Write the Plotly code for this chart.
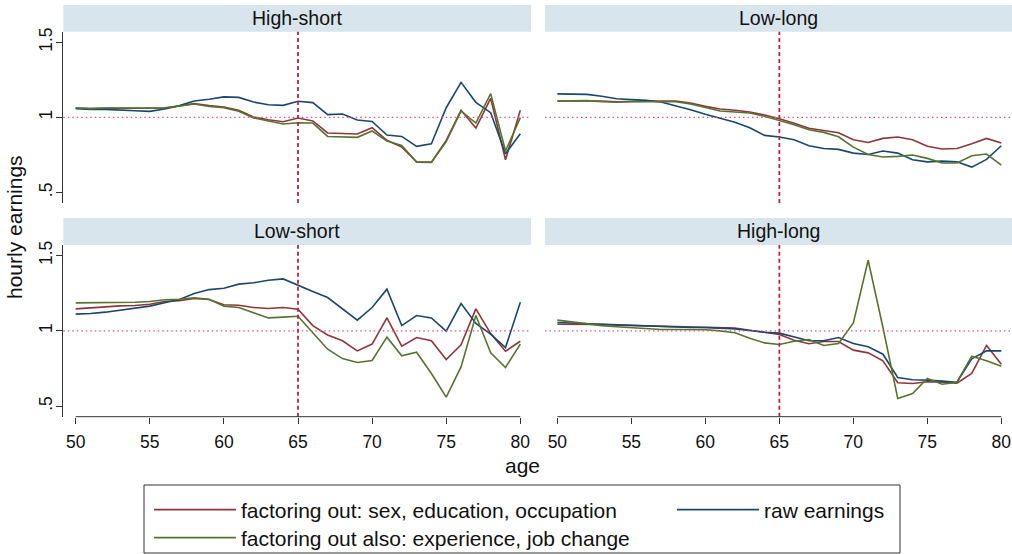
import plotly.graph_objects as go

W, H = 1012, 554

ages = list(range(50, 81))
panel_titles = ["High-short", "Low-long", "Low-short", "High-long"]
series_names = [
    "factoring out: sex, education, occupation",
    "raw earnings",
    "factoring out also: experience, job change",
]
x_ticks = [50, 55, 60, 65, 70, 75, 80]
y_tickvals = [0.5, 1.0, 1.5]
y_ticktext = [".5", "1", "1.5"]
retire_age = 65
ref_level = 1.0

# High-short
hs_sex_edu_occ = [1.062, 1.058, 1.060, 1.060, 1.060, 1.060, 1.062, 1.076, 1.091, 1.078, 1.069,
                  1.047, 1.002, 0.984, 0.971, 0.996, 0.976, 0.896, 0.891, 0.889, 0.931,
                  0.847, 0.802, 0.704, 0.702, 0.847, 1.047, 0.929, 1.127, 0.718, 1.047]
hs_raw = [1.058, 1.053, 1.053, 1.051, 1.044, 1.040, 1.056, 1.078, 1.109, 1.120, 1.136,
          1.133, 1.102, 1.084, 1.080, 1.107, 1.098, 1.018, 1.022, 0.982, 0.973,
          0.882, 0.873, 0.807, 0.824, 1.064, 1.233, 1.100, 1.031, 0.758, 0.891]
hs_also_exp = [1.062, 1.058, 1.062, 1.064, 1.062, 1.062, 1.064, 1.076, 1.089, 1.073, 1.064,
               1.040, 0.996, 0.976, 0.956, 0.964, 0.962, 0.873, 0.869, 0.867, 0.909,
               0.842, 0.813, 0.702, 0.700, 0.838, 1.042, 0.962, 1.158, 0.776, 0.998]

# Low-long
ll_sex_edu_occ = [1.109, 1.109, 1.113, 1.109, 1.104, 1.107, 1.109, 1.109, 1.109, 1.096, 1.073,
                  1.056, 1.047, 1.036, 1.016, 0.991, 0.960, 0.927, 0.913, 0.898, 0.851,
                  0.833, 0.860, 0.869, 0.851, 0.807, 0.789, 0.793, 0.824, 0.860, 0.829]
ll_raw = [1.156, 1.156, 1.153, 1.140, 1.124, 1.118, 1.113, 1.102, 1.078, 1.051, 1.020,
          0.993, 0.967, 0.931, 0.880, 0.869, 0.851, 0.811, 0.793, 0.787, 0.762,
          0.753, 0.776, 0.762, 0.718, 0.704, 0.709, 0.704, 0.669, 0.720, 0.811]
ll_also_exp = [1.109, 1.109, 1.111, 1.104, 1.100, 1.104, 1.104, 1.107, 1.104, 1.089, 1.064,
               1.042, 1.036, 1.029, 1.007, 0.980, 0.951, 0.918, 0.900, 0.871, 0.802,
               0.753, 0.736, 0.740, 0.749, 0.727, 0.696, 0.696, 0.744, 0.756, 0.682]

# Low-short
ls_sex_edu_occ = [1.146, 1.153, 1.159, 1.166, 1.168, 1.177, 1.195, 1.201, 1.215, 1.208, 1.173,
                  1.170, 1.155, 1.148, 1.155, 1.144, 1.035, 0.973, 0.934, 0.867, 0.912,
                  1.086, 0.898, 0.956, 0.934, 0.810, 0.907, 1.146, 0.982, 0.865, 0.931]
ls_raw = [1.111, 1.115, 1.124, 1.137, 1.148, 1.164, 1.186, 1.208, 1.248, 1.274, 1.283,
          1.310, 1.319, 1.336, 1.345, 1.301, 1.261, 1.221, 1.146, 1.071, 1.155,
          1.277, 1.035, 1.102, 1.086, 0.998, 1.181, 1.049, 0.978, 0.889, 1.190]
ls_also_exp = [1.186, 1.186, 1.188, 1.190, 1.190, 1.195, 1.206, 1.210, 1.219, 1.210, 1.164,
               1.155, 1.122, 1.086, 1.091, 1.097, 0.987, 0.878, 0.816, 0.790, 0.803,
               0.958, 0.834, 0.858, 0.717, 0.560, 0.761, 1.102, 0.854, 0.757, 0.912]

# High-long
hl_sex_edu_occ = [1.044, 1.044, 1.044, 1.042, 1.038, 1.035, 1.035, 1.029, 1.027, 1.027, 1.024,
                  1.022, 1.018, 1.004, 0.991, 0.976, 0.938, 0.914, 0.929, 0.929, 0.872,
                  0.854, 0.801, 0.655, 0.650, 0.662, 0.659, 0.653, 0.717, 0.903, 0.779]
hl_raw = [1.055, 1.051, 1.046, 1.042, 1.038, 1.035, 1.033, 1.029, 1.022, 1.022, 1.022,
          1.020, 1.013, 1.002, 0.991, 0.985, 0.960, 0.934, 0.934, 0.956, 0.916,
          0.894, 0.845, 0.690, 0.675, 0.673, 0.666, 0.659, 0.814, 0.867, 0.867]
hl_also_exp = [1.071, 1.058, 1.044, 1.035, 1.027, 1.022, 1.018, 1.009, 1.009, 1.009, 1.007,
               1.000, 0.987, 0.951, 0.920, 0.909, 0.931, 0.942, 0.903, 0.916, 1.053,
               1.469, 1.022, 0.551, 0.584, 0.684, 0.646, 0.659, 0.832, 0.801, 0.765]

panel_data = [
    (hs_sex_edu_occ, hs_raw, hs_also_exp),
    (ll_sex_edu_occ, ll_raw, ll_also_exp),
    (ls_sex_edu_occ, ls_raw, ls_also_exp),
    (hl_sex_edu_occ, hl_raw, hl_also_exp),
]

colors = ["#90353b", "#1a476f", "#55752f"]
legend_ids = ["legend", "legend2", "legend3"]
draw_order = [0, 1, 2]

FONT = "Liberation Sans, Arial, Helvetica, sans-serif"
AXIS_C = "#333333"
HEADER_FILL = "#d9e5ec"


def px(x):
    return x / W


def py(y):
    return 1 - y / H


# panel geometry in pixels
col_x = [(63.3, 531.0), (545.0, 1012.0)]
row_y = [(31.7, 203.0), (245.0, 416.7)]
head_y = [(5.0, 31.7), (218.0, 245.0)]

fig = go.Figure()

for p in range(4):
    r, c = divmod(p, 2)
    ax = "" if p == 0 else str(p + 1)
    for s in draw_order:
        fig.add_trace(go.Scatter(
            x=ages, y=panel_data[p][s], mode="lines",
            name=series_names[s],
            line=dict(color=colors[s], width=1.6),
            xaxis="x" + ax, yaxis="y" + ax,
            showlegend=(p == 0), legend=legend_ids[s],
            hoverinfo="skip",
        ))

layout = dict(
    width=W, height=H,
    margin=dict(l=0, r=0, t=0, b=0, autoexpand=False),
    paper_bgcolor="white", plot_bgcolor="white",
    font=dict(family=FONT, color="#111111"),
    showlegend=True,
)

shapes = []
annotations = []

for p in range(4):
    r, c = divmod(p, 2)
    ax = "" if p == 0 else str(p + 1)
    xk = "xaxis" + ax
    yk = "yaxis" + ax
    x0, x1 = col_x[c]
    y0, y1 = row_y[r]
    show_x = r == 1
    show_y = c == 0
    layout[xk] = dict(
        domain=[px(x0), px(x1)], range=[49.165, 80.72],
        anchor="y" + ax,
        showgrid=False, zeroline=False, showline=False,
        tickvals=x_ticks if show_x else [],
        showticklabels=show_x,
        ticks="outside" if show_x else "", ticklen=6, tickcolor=AXIS_C, tickwidth=1,
        ticklabelstandoff=3,
        tickfont=dict(size=17.5, family=FONT, color="#111111"),
    )
    layout[yk] = dict(
        domain=[py(y1), py(y0)], range=[0.43, 1.57],
        anchor="x" + ax,
        showgrid=False, zeroline=False,
        showline=show_y, linecolor=AXIS_C, linewidth=1,
        tickvals=y_tickvals if show_y else [],
        ticktext=y_ticktext if show_y else [],
        showticklabels=show_y,
        ticks="outside" if show_y else "", ticklen=6, tickcolor=AXIS_C, tickwidth=1,
        tickangle=-90,
        ticklabelstandoff=-3,
        tickfont=dict(size=17.5, family=FONT, color="#111111"),
    )
    # header band
    hy0, hy1 = head_y[r]
    shapes.append(dict(type="rect", xref="paper", yref="paper",
                       x0=px(x0), x1=px(x1), y0=py(hy1), y1=py(hy0),
                       fillcolor=HEADER_FILL, line=dict(width=0), layer="below"))
    annotations.append(dict(text=panel_titles[p], xref="paper", yref="paper",
                            x=px((x0 + x1) / 2), y=py((hy0 + hy1) / 2),
                            xanchor="center", yanchor="middle", showarrow=False,
                            font=dict(size=19.5, family=FONT, color="#111111")))
    # reference line at 1
    shapes.append(dict(type="line", xref="x" + ax + " domain", yref="y" + ax,
                       x0=0, x1=1, y0=ref_level, y1=ref_level,
                       line=dict(color="#e0557a", width=1.2, dash="1.5px,3px")))
    # retirement age line
    shapes.append(dict(type="line", xref="x" + ax, yref="y" + ax + " domain",
                       x0=retire_age, x1=retire_age, y0=0, y1=1,
                       line=dict(color="#c41e45", width=1.8, dash="4px,3px")))
    # x axis line between first and last tick
    if show_x:
        shapes.append(dict(type="line", xref="x" + ax, yref="y" + ax + " domain",
                           x0=x_ticks[0], x1=x_ticks[-1], y0=0, y1=0,
                           line=dict(color=AXIS_C, width=1)))

# axis titles
annotations.append(dict(text="age", xref="paper", yref="paper", x=px(522), y=py(465),
                        xanchor="center", yanchor="middle", showarrow=False,
                        font=dict(size=21, family=FONT, color="#111111")))
annotations.append(dict(text="hourly earnings", xref="paper", yref="paper", x=px(14), y=py(227),
                        xanchor="center", yanchor="middle", showarrow=False, textangle=-90,
                        font=dict(size=21, family=FONT, color="#111111")))

# legend frame
shapes.append(dict(type="rect", xref="paper", yref="paper",
                   x0=px(144), x1=px(900), y0=py(553), y1=py(485),
                   line=dict(color=AXIS_C, width=1), fillcolor="rgba(0,0,0,0)"))

leg_common = dict(orientation="v", bgcolor="rgba(0,0,0,0)", borderwidth=0,
                  font=dict(size=21, family=FONT, color="#111111"),
                  itemwidth=82, xanchor="left", yanchor="middle", tracegroupgap=0,
                  itemclick=False, itemdoubleclick=False)
layout["legend"] = dict(leg_common, x=px(149), y=py(510))
layout["legend2"] = dict(leg_common, x=px(672), y=py(510))
layout["legend3"] = dict(leg_common, x=px(149), y=py(538))

layout["shapes"] = shapes
layout["annotations"] = annotations
fig.update_layout(**layout)

fig.write_html("out.html", config={"displayModeBar": False},
               post_script="document.body.style.margin='0px';document.body.style.overflow='hidden';")
